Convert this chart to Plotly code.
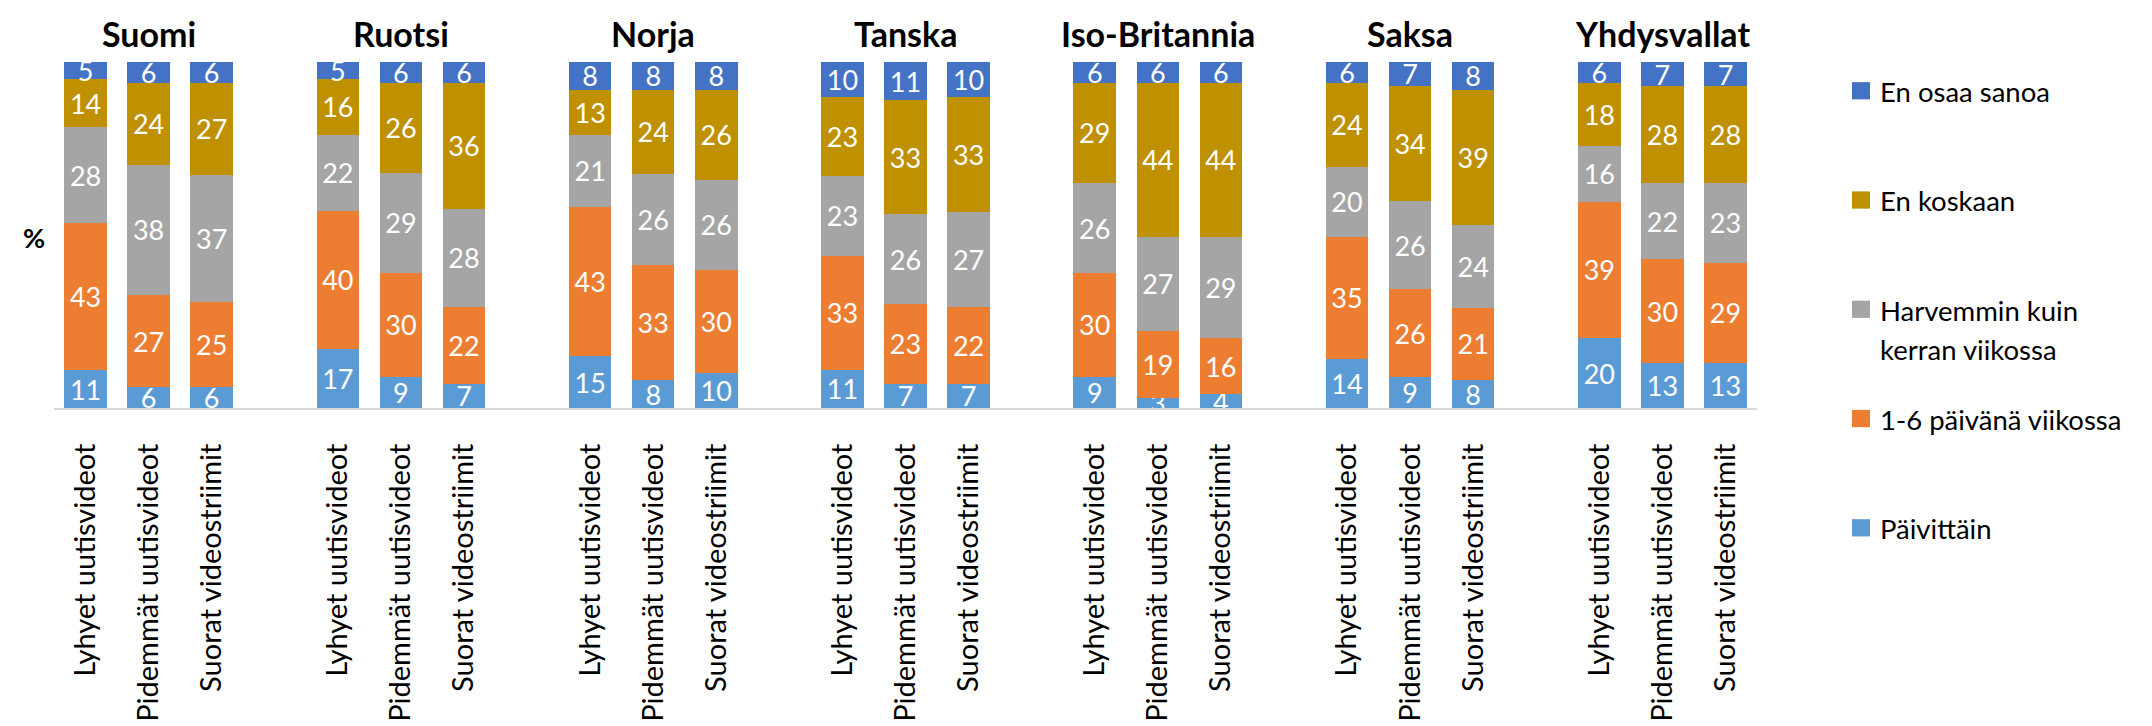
import plotly.graph_objects as go

# ---------------- data ----------------
countries = ["Suomi", "Ruotsi", "Norja", "Tanska", "Iso-Britannia", "Saksa", "Yhdysvallat"]
types = ["Lyhyet uutisvideot", "Pidemmät uutisvideot", "Suorat videostriimit"]

series_names = ["Päivittäin", "1-6 päivänä viikossa", "Harvemmin kuin<br>kerran viikossa",
                "En koskaan", "En osaa sanoa"]
series_colors = ["#5B9BD5", "#ED7D31", "#A5A5A5", "#BF9000", "#4472C4"]

# values per series, in order country x type (Lyhyet, Pidemmät, Suorat)
paivittain = [11, 6, 6, 17, 9, 7, 15, 8, 10, 11, 7, 7, 9, 3, 4, 14, 9, 8, 20, 13, 13]
paiva_1_6 = [43, 27, 25, 40, 30, 22, 43, 33, 30, 33, 23, 22, 30, 19, 16, 35, 26, 21, 39, 30, 29]
harvemmin = [28, 38, 37, 22, 29, 28, 21, 26, 26, 23, 26, 27, 26, 27, 29, 20, 26, 24, 16, 22, 23]
en_koskaan = [14, 24, 27, 16, 26, 36, 13, 24, 26, 23, 33, 33, 29, 44, 44, 24, 34, 39, 18, 28, 28]
en_osaa = [5, 6, 6, 5, 6, 6, 8, 8, 8, 10, 11, 10, 6, 6, 6, 6, 7, 8, 6, 7, 7]
series_values = [paivittain, paiva_1_6, harvemmin, en_koskaan, en_osaa]

# ---------------- layout constants (pixels) ----------------
W, H = 2152, 726
PL, PR, PT, PB = 46, 1749, 54, 415
FONT = "Lato, 'Open Sans', sans-serif"
SLOT = len(types) + 1  # three bars + one empty slot per country


def px_x(px):
    return (px - PL) / (PR - PL)


def px_y(py):
    return (PB - py) / (PB - PT)


# x positions from group / type indices
xpos = [SLOT * g + t for g in range(len(countries)) for t in range(len(types))]
ticktext = [types[t] for g in range(len(countries)) for t in range(len(types))]

fig = go.Figure()
for name, col, vals in zip(series_names, series_colors, series_values):
    fig.add_trace(go.Bar(
        x=xpos, y=vals, name=name.replace("<br>", " "),
        marker=dict(color=col, line=dict(width=0)),
        text=[str(v) for v in vals], textposition="inside", insidetextanchor="middle",
        textangle=0, constraintext="none",
        textfont=dict(family=FONT, size=27, color="white"),
        showlegend=False, hoverinfo="skip",
    ))

annotations = []
# country titles
for g, c in enumerate(countries):
    annotations.append(dict(
        x=SLOT * g + 1, xref="x", y=px_y(24), yref="paper",
        text=f"<b>{c}</b>", showarrow=False, xanchor="center", yanchor="middle",
        font=dict(family=FONT, size=34, color="black"),
    ))
# % label
annotations.append(dict(
    x=px_x(26), xref="paper", y=px_y(237), yref="paper", text="<b>%</b>",
    showarrow=False, xanchor="center", yanchor="middle",
    font=dict(family=FONT, size=27, color="black"),
))

# manual legend (top to bottom)
legend_rows = [(84, 4), (198, 3), (312, 2), (426, 1), (540, 0)]
shapes = []
for cy, si in legend_rows:
    shapes.append(dict(
        type="rect", xref="paper", yref="paper",
        x0=px_x(1844), x1=px_x(1862), y0=px_y(cy + 9), y1=px_y(cy - 9),
        fillcolor=series_colors[si], line=dict(width=0),
    ))
    lines = series_names[si].split("<br>")
    for li, line in enumerate(lines):
        annotations.append(dict(
            x=px_x(1870), xref="paper", y=px_y(cy + 1 + 41 * li), yref="paper",
            text=line, showarrow=False, xanchor="left", yanchor="middle",
            font=dict(family=FONT, size=27.5, color="black"),
        ))

fig.update_layout(
    width=W, height=H,
    margin=dict(l=PL, r=W - PR, t=PT, b=H - PB, pad=0),
    barmode="stack", barnorm="percent", bargap=0.326,
    plot_bgcolor="white", paper_bgcolor="white",
    annotations=annotations, shapes=shapes,
    showlegend=False,
    xaxis=dict(
        range=[-0.5, SLOT * len(countries) - 1.5],
        tickmode="array", tickvals=xpos, ticktext=ticktext, tickangle=-90,
        tickfont=dict(family=FONT, size=29, color="black"),
        showgrid=False, zeroline=False, showline=True, linecolor="#D9D9D9", linewidth=2,
        ticks="", ticklabelstandoff=22,
    ),
    yaxis=dict(range=[0, 100], visible=False, showgrid=False, zeroline=False),
)

fig.write_html("out.html")
